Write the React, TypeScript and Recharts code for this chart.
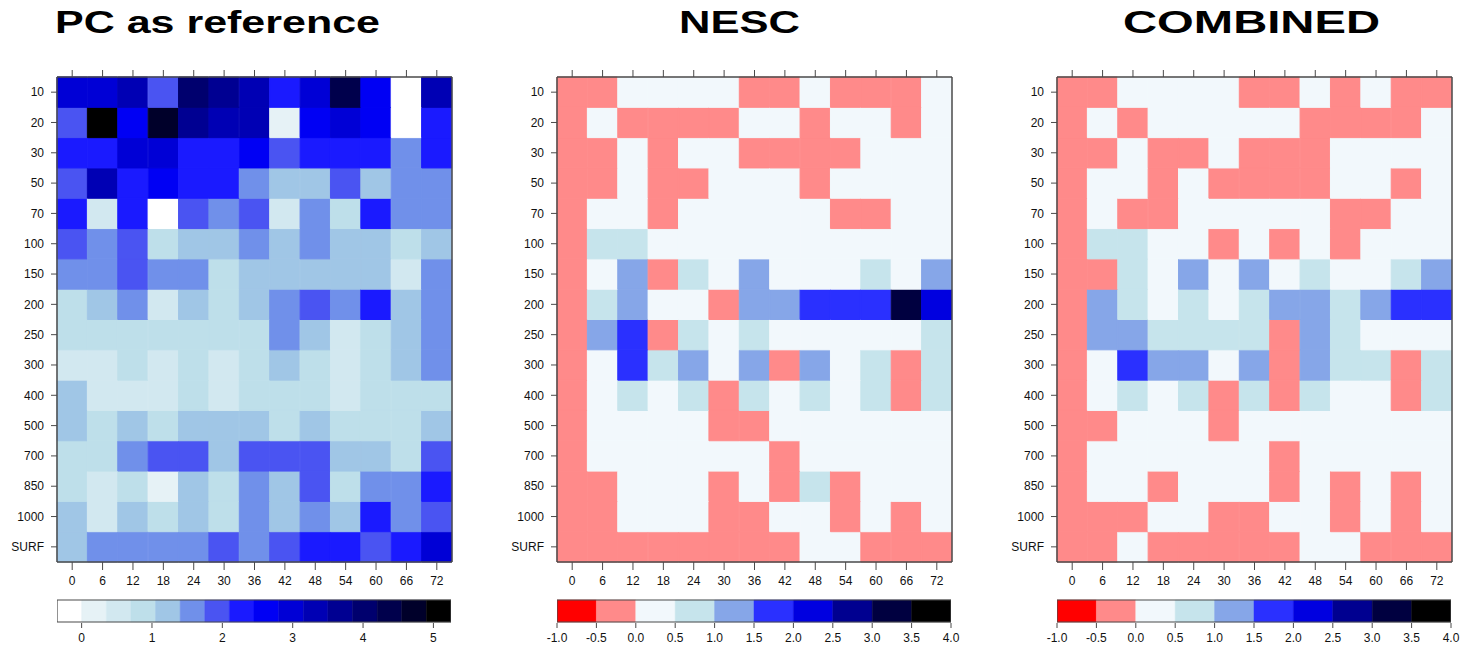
import React from 'react';
import { BarChart, Bar, Cell, XAxis, YAxis } from 'recharts';

// forecast hour columns and vertical levels (top to bottom)
const forecastHours = ['0', '6', '12', '18', '24', '30', '36', '42', '48', '54', '60', '66', '72'];
const levels = ['10', '20', '30', '50', '70', '100', '150', '200', '250', '300', '400', '500', '700', '850', '1000', 'SURF'];

// PC as reference, one row per level
const pcValues = [
  [3.0, 3.0, 3.3, 1.9, 4.0, 3.7, 3.3, 2.3, 3.0, 4.4, 2.6, -0.2, 3.3],
  [1.9, 5.1, 2.6, 4.7, 3.7, 3.3, 3.3, 0.2, 2.6, 3.0, 2.6, -0.2, 2.3],
  [2.3, 2.3, 3.0, 3.0, 2.3, 2.3, 2.6, 1.9, 2.3, 2.3, 2.3, 1.6, 2.3],
  [1.9, 3.3, 2.3, 2.6, 2.3, 2.3, 1.6, 1.2, 1.2, 1.9, 1.2, 1.6, 1.6],
  [2.3, 0.5, 2.3, -0.2, 1.9, 1.6, 1.9, 0.5, 1.6, 0.9, 2.3, 1.6, 1.6],
  [1.9, 1.6, 1.9, 0.9, 1.2, 1.2, 1.6, 1.2, 1.6, 1.2, 1.2, 0.9, 1.2],
  [1.6, 1.6, 1.9, 1.6, 1.6, 0.9, 1.2, 1.2, 1.2, 1.2, 1.2, 0.5, 1.6],
  [0.9, 1.2, 1.6, 0.5, 1.2, 0.9, 1.2, 1.6, 1.9, 1.6, 2.3, 1.2, 1.6],
  [0.9, 0.9, 0.9, 0.9, 0.9, 0.9, 0.9, 1.6, 1.2, 0.5, 0.9, 1.2, 1.6],
  [0.5, 0.5, 0.9, 0.5, 0.9, 0.5, 0.9, 1.2, 0.9, 0.5, 0.9, 1.2, 1.6],
  [1.2, 0.5, 0.5, 0.5, 0.9, 0.5, 0.9, 0.9, 0.9, 0.5, 0.9, 0.9, 0.9],
  [1.2, 0.9, 1.2, 0.9, 1.2, 1.2, 1.2, 0.9, 1.2, 0.9, 0.9, 0.9, 1.2],
  [0.9, 0.9, 1.6, 1.9, 1.9, 1.2, 1.9, 1.9, 1.9, 1.2, 1.2, 0.9, 1.9],
  [0.9, 0.5, 0.9, 0.2, 1.2, 0.9, 1.6, 1.2, 1.9, 0.9, 1.6, 1.6, 2.3],
  [1.2, 0.5, 1.2, 0.9, 1.2, 0.9, 1.6, 1.2, 1.6, 1.2, 2.3, 1.6, 1.9],
  [1.2, 1.6, 1.6, 1.6, 1.6, 1.9, 1.6, 1.9, 2.3, 2.3, 1.9, 2.3, 3.0],
];

const nescValues = [
  [-0.25, -0.25, 0.25, 0.25, 0.25, 0.25, -0.25, -0.25, 0.25, -0.25, -0.25, -0.25, 0.25],
  [-0.25, 0.25, -0.25, -0.25, -0.25, -0.25, 0.25, 0.25, -0.25, 0.25, 0.25, -0.25, 0.25],
  [-0.25, -0.25, 0.25, -0.25, 0.25, 0.25, -0.25, -0.25, -0.25, -0.25, 0.25, 0.25, 0.25],
  [-0.25, -0.25, 0.25, -0.25, -0.25, 0.25, 0.25, 0.25, -0.25, 0.25, 0.25, 0.25, 0.25],
  [-0.25, 0.25, 0.25, -0.25, 0.25, 0.25, 0.25, 0.25, 0.25, -0.25, -0.25, 0.25, 0.25],
  [-0.25, 0.75, 0.75, 0.25, 0.25, 0.25, 0.25, 0.25, 0.25, 0.25, 0.25, 0.25, 0.25],
  [-0.25, 0.25, 1.25, -0.25, 0.75, 0.25, 1.25, 0.25, 0.25, 0.25, 0.75, 0.25, 1.25],
  [-0.25, 0.75, 1.25, 0.25, 0.25, -0.25, 1.25, 1.25, 1.75, 1.75, 1.75, 3.25, 2.25],
  [-0.25, 1.25, 1.75, -0.25, 0.75, 0.25, 0.75, 0.25, 0.25, 0.25, 0.25, 0.25, 0.75],
  [-0.25, 0.25, 1.75, 0.75, 1.25, 0.25, 1.25, -0.25, 1.25, 0.25, 0.75, -0.25, 0.75],
  [-0.25, 0.25, 0.75, 0.25, 0.75, -0.25, 0.75, 0.25, 0.75, 0.25, 0.75, -0.25, 0.75],
  [-0.25, 0.25, 0.25, 0.25, 0.25, -0.25, -0.25, 0.25, 0.25, 0.25, 0.25, 0.25, 0.25],
  [-0.25, 0.25, 0.25, 0.25, 0.25, 0.25, 0.25, -0.25, 0.25, 0.25, 0.25, 0.25, 0.25],
  [-0.25, -0.25, 0.25, 0.25, 0.25, -0.25, 0.25, -0.25, 0.75, -0.25, 0.25, 0.25, 0.25],
  [-0.25, -0.25, 0.25, 0.25, 0.25, -0.25, -0.25, 0.25, 0.25, -0.25, 0.25, -0.25, 0.25],
  [-0.25, -0.25, -0.25, -0.25, -0.25, -0.25, -0.25, -0.25, 0.25, 0.25, -0.25, -0.25, -0.25],
];

const combinedValues = [
  [-0.25, -0.25, 0.25, 0.25, 0.25, 0.25, -0.25, -0.25, 0.25, -0.25, 0.25, -0.25, -0.25],
  [-0.25, 0.25, -0.25, 0.25, 0.25, 0.25, 0.25, 0.25, -0.25, -0.25, -0.25, -0.25, 0.25],
  [-0.25, -0.25, 0.25, -0.25, -0.25, 0.25, -0.25, -0.25, -0.25, 0.25, 0.25, 0.25, 0.25],
  [-0.25, 0.25, 0.25, -0.25, 0.25, -0.25, -0.25, -0.25, -0.25, 0.25, 0.25, -0.25, 0.25],
  [-0.25, 0.25, -0.25, -0.25, 0.25, 0.25, 0.25, 0.25, 0.25, -0.25, -0.25, 0.25, 0.25],
  [-0.25, 0.75, 0.75, 0.25, 0.25, -0.25, 0.25, -0.25, 0.25, -0.25, 0.25, 0.25, 0.25],
  [-0.25, -0.25, 0.75, 0.25, 1.25, 0.25, 1.25, 0.25, 0.75, 0.25, 0.25, 0.75, 1.25],
  [-0.25, 1.25, 0.75, 0.25, 0.75, 0.25, 0.75, 1.25, 1.25, 0.75, 1.25, 1.75, 1.75],
  [-0.25, 1.25, 1.25, 0.75, 0.75, 0.75, 0.75, -0.25, 1.25, 0.75, 0.25, 0.25, 0.25],
  [-0.25, 0.25, 1.75, 1.25, 1.25, 0.25, 1.25, -0.25, 1.25, 0.75, 0.75, -0.25, 0.75],
  [-0.25, 0.25, 0.75, 0.25, 0.75, -0.25, 0.75, -0.25, 0.75, 0.25, 0.25, -0.25, 0.75],
  [-0.25, -0.25, 0.25, 0.25, 0.25, -0.25, 0.25, 0.25, 0.25, 0.25, 0.25, 0.25, 0.25],
  [-0.25, 0.25, 0.25, 0.25, 0.25, 0.25, 0.25, -0.25, 0.25, 0.25, 0.25, 0.25, 0.25],
  [-0.25, 0.25, 0.25, -0.25, 0.25, 0.25, 0.25, -0.25, 0.25, -0.25, 0.25, -0.25, 0.25],
  [-0.25, -0.25, -0.25, 0.25, 0.25, -0.25, -0.25, 0.25, 0.25, -0.25, 0.25, -0.25, 0.25],
  [-0.25, -0.25, 0.25, -0.25, -0.25, -0.25, -0.25, -0.25, 0.25, 0.25, -0.25, -0.25, -0.25],
];

// colour scales
const pcBounds = [-0.35, 0, 0.35, 0.7, 1.05, 1.4, 1.75, 2.1, 2.45, 2.8, 3.15, 3.5, 3.85, 4.2, 4.55, 4.9, 5.25];
const pcColors = [
  '#ffffff', '#e6f2f6', '#d2e8f0', '#bedfea', '#a0c6e6', '#7090ea', '#4a54f2', '#1a1aff',
  '#0000f4', '#0000d6', '#0000b4', '#000092', '#00006e', '#00004c', '#00002a', '#000000',
];
const pcTicks = [0, 1, 2, 3, 4, 5];

const diffBounds = [-1, -0.5, 0, 0.5, 1, 1.5, 2, 2.5, 3, 3.5, 4];
const diffColors = ['#ff0000', '#ff8a8a', '#f2f8fc', '#c6e4ec', '#86a6e8', '#2a30ff', '#0000e0', '#000090', '#000040', '#000000'];
const diffTicks = [-1, -0.5, 0, 0.5, 1, 1.5, 2, 2.5, 3, 3.5, 4];

const FONT = '"Liberation Sans", Arial, sans-serif';
const FRAME = '#4a4a4a';

const pickColor = (v: number, bounds: number[], colors: string[]) => {
  for (let i = 0; i < colors.length; i++) {
    if (v < bounds[i + 1]) return colors[i];
  }
  return colors[colors.length - 1];
};

const yTicks = levels.map((_, i) => levels.length - 0.5 - i);
const levelLabel = (t: number) => levels[levels.length - 1 - Math.floor(t)];
const noLabel = () => <g />;

// each column is one stacked bar, each level one unit-high segment
const cellRows = forecastHours.map((hour) => {
  const row: any = { hour };
  levels.forEach((_, r) => {
    row['r' + r] = 1;
  });
  return row;
});

const Heatmap = ({ values, bounds, colors, left }: any) => {
  const stackOrder = levels.map((_, i) => levels.length - 1 - i); // bottom level first
  return (
    <div style={{ position: 'absolute', left, top: 0 }}>
      <BarChart
        width={490}
        height={600}
        data={cellRows}
        margin={{ top: 0, right: 0, bottom: 0, left: 0 }}
        barCategoryGap={0}
        barGap={0}
      >
        <XAxis
          xAxisId="bottom"
          dataKey="hour"
          orientation="bottom"
          height={38}
          interval={0}
          tickSize={8}
          tickMargin={6}
          axisLine={{ stroke: FRAME, strokeWidth: 1.5 }}
          tickLine={{ stroke: FRAME }}
          tick={{ fill: '#111', fontSize: 12, fontFamily: FONT }}
        />
        <XAxis
          xAxisId="top"
          dataKey="hour"
          orientation="top"
          height={77}
          interval={0}
          tickSize={7}
          tick={noLabel}
          axisLine={{ stroke: FRAME, strokeWidth: 1.5 }}
          tickLine={{ stroke: FRAME }}
        />
        <YAxis
          yAxisId="left"
          type="number"
          domain={[0, levels.length]}
          ticks={yTicks}
          interval={0}
          width={57}
          tickSize={6}
          tickMargin={7}
          tickFormatter={levelLabel}
          axisLine={{ stroke: FRAME, strokeWidth: 1.5 }}
          tickLine={{ stroke: FRAME }}
          tick={{ fill: '#111', fontSize: 12, fontFamily: FONT }}
        />
        <YAxis
          yAxisId="right"
          orientation="right"
          type="number"
          domain={[0, levels.length]}
          ticks={yTicks}
          interval={0}
          width={38}
          tickSize={5}
          tick={noLabel}
          axisLine={{ stroke: FRAME, strokeWidth: 1.5 }}
          tickLine={{ stroke: FRAME }}
        />
        {stackOrder.map((r) => (
          <Bar
            key={r}
            xAxisId="bottom"
            yAxisId="left"
            dataKey={'r' + r}
            stackId="cells"
            isAnimationActive={false}
          >
            {forecastHours.map((_, c) => {
              const col = pickColor(values[r][c], bounds, colors);
              return <Cell key={c} fill={col} stroke={col} strokeWidth={1} />;
            })}
          </Bar>
        ))}
      </BarChart>
    </div>
  );
};

// colour bar: one floating bar per colour level, all drawn in the same row
const ColorBar = ({ bounds, colors, ticks, digits, left }: any) => {
  const lo = bounds[0];
  const hi = bounds[bounds.length - 1];
  const row: any = { name: 'scale', all: [lo, hi] };
  colors.forEach((_: string, i: number) => {
    row['s' + i] = [bounds[i], bounds[i + 1]];
  });
  return (
    <div style={{ position: 'absolute', left, top: 590 }}>
      <BarChart
        layout="vertical"
        width={490}
        height={56}
        data={[row]}
        margin={{ top: 9, right: 39, bottom: 0, left: 57 }}
        barCategoryGap={0}
        barGap={-22}
      >
        <XAxis
          type="number"
          domain={[lo, hi]}
          allowDataOverflow
          ticks={ticks}
          interval={0}
          height={23}
          tickSize={5}
          tickMargin={5}
          tickFormatter={(v: number) => v.toFixed(digits)}
          axisLine={false}
          tickLine={{ stroke: FRAME }}
          tick={{ fill: '#111', fontSize: 12, fontFamily: FONT }}
        />
        <YAxis type="category" dataKey="name" hide />
        {colors.map((c: string, i: number) => (
          <Bar key={i} dataKey={'s' + i} fill={c} stroke={c} strokeWidth={0.5} barSize={22} isAnimationActive={false} />
        ))}
        <Bar dataKey="all" fill="none" stroke={FRAME} strokeWidth={1.2} barSize={22} isAnimationActive={false} />
      </BarChart>
    </div>
  );
};

const titleStyle: React.CSSProperties = {
  fontFamily: FONT,
  fontWeight: 'bold',
  fontSize: 31,
  fill: '#000',
};

export default function App() {
  return (
    <div style={{ position: 'absolute', left: 0, top: 0, width: 1466, height: 645, background: '#fff', overflow: 'hidden' }}>
      <Heatmap values={pcValues} bounds={pcBounds} colors={pcColors} left={0} />
      <Heatmap values={nescValues} bounds={diffBounds} colors={diffColors} left={500} />
      <Heatmap values={combinedValues} bounds={diffBounds} colors={diffColors} left={1000} />
      <ColorBar bounds={pcBounds} colors={pcColors} ticks={pcTicks} digits={0} left={0} />
      <ColorBar bounds={diffBounds} colors={diffColors} ticks={diffTicks} digits={1} left={500} />
      <ColorBar bounds={diffBounds} colors={diffColors} ticks={diffTicks} digits={1} left={1000} />
      <svg width={1466} height={60} style={{ position: 'absolute', left: 0, top: 0 }}>
        <text x={55} y={33} textLength={325} lengthAdjust="spacingAndGlyphs" style={titleStyle}>PC as reference</text>
        <text x={679} y={33} textLength={121} lengthAdjust="spacingAndGlyphs" style={titleStyle}>NESC</text>
        <text x={1123} y={33} textLength={257} lengthAdjust="spacingAndGlyphs" style={titleStyle}>COMBINED</text>
      </svg>
    </div>
  );
}
